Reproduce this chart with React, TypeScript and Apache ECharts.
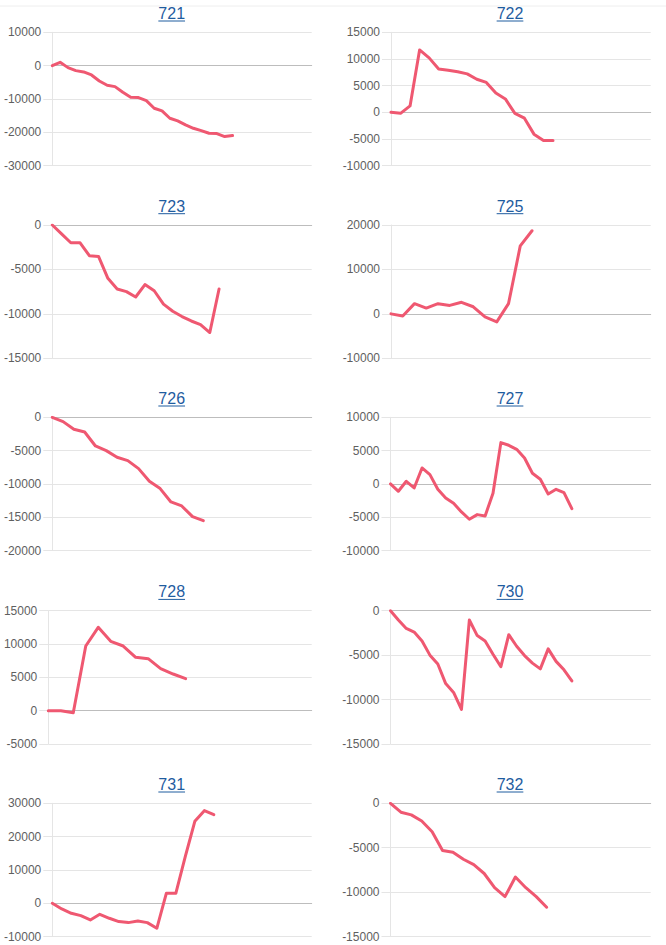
import React, { useEffect, useRef } from "react";
import * as echarts from "echarts";

// Panel titles (in reading order)
const titles = ["721", "722", "723", "725", "726", "727", "728", "730", "731", "732"];

// Series values
const s721 = [0, 1000, -600, -1500, -1900, -2800, -4600, -5900, -6300, -8000, -9500, -9600, -10500, -12800, -13600, -15800, -16600, -17800, -18800, -19500, -20300, -20400, -21300, -21000];
const s722 = [0, -200, 1200, 11700, 10200, 8100, 7900, 7600, 7200, 6200, 5600, 3600, 2500, -200, -1100, -4100, -5300, -5300];
const s723 = [0, -1000, -2000, -2000, -3450, -3550, -6000, -7200, -7500, -8100, -6700, -7400, -8900, -9700, -10300, -10800, -11200, -12100, -7200];
const s725 = [0, -500, 2300, 1300, 2300, 1900, 2600, 1600, -700, -1800, 2300, 15300, 18700];
const s726 = [0, -650, -1800, -2200, -4300, -5000, -6000, -6500, -7700, -9600, -10700, -12700, -13300, -14900, -15500];
const s727 = [0, -1100, 400, -600, 2400, 1400, -800, -2100, -2900, -4200, -5300, -4600, -4800, -1400, 6200, 5800, 5200, 3900, 1600, 700, -1500, -800, -1300, -3700];
const s728 = [0, 0, -300, 9700, 12500, 10400, 9700, 8000, 7800, 6300, 5500, 4800];
const s730 = [0, -1050, -2000, -2400, -3400, -5000, -6000, -8200, -9200, -11100, -1050, -2800, -3400, -4900, -6300, -2700, -4000, -5050, -5900, -6550, -4300, -5700, -6650, -7900];
const s731 = [0, -1700, -3000, -3700, -5000, -3300, -4500, -5500, -5800, -5300, -5800, -7500, 3000, 3000, 14100, 24600, 27800, 26600];
const s732 = [0, -1000, -1300, -2000, -3200, -5300, -5500, -6300, -6900, -7900, -9500, -10500, -8300, -9500, -10500, -11700];

const seriesValues = [s721, s722, s723, s725, s726, s727, s728, s730, s731, s732];

// Y axis ranges (tick labels)
const yMins = [-30000, -10000, -15000, -10000, -20000, -10000, -5000, -15000, -10000, -15000];
const yMaxs = [10000, 15000, 0, 20000, 0, 10000, 15000, 0, 30000, 0];
const ySteps = [10000, 5000, 5000, 10000, 5000, 5000, 5000, 5000, 10000, 5000];

// Layout (positions / sizes)
const plotLefts = [52.3, 391, 52.3, 391, 52.3, 390.5, 48.3, 390.5, 52.3, 390.5];
const plotRights = [311.7, 650.7];
const rowTops = [32.3, 225, 417.3, 610.7, 803.3];
const plotHeight = 133.3;
const xSpans = [33.1, 27.25, 28.0, 22.1, 24.05, 33.0, 21.1, 33.0, 27.3, 25.0];
const titleCenters = [171.7, 510];

const LINE_COLOR = "#ef5871";
const GRID_COLOR = "#e5e5e5";
const ZERO_COLOR = "#bdbdbd";
const LABEL_COLOR = "#5f5f5f";
const LINK_COLOR = "#1f5c9f";
const FONT = "'Liberation Sans', Arial, sans-serif";

export default function App() {
  const ref = useRef<HTMLDivElement>(null);

  useEffect(() => {
    if (!ref.current) return;
    const chart = echarts.init(ref.current, undefined, { renderer: "svg" });

    const grids: any[] = [];
    const xAxes: any[] = [];
    const yAxes: any[] = [];
    const series: any[] = [];
    const graphics: any[] = [];

    graphics.push({
      type: "line",
      shape: { x1: 0, y1: 6, x2: 666, y2: 6 },
      style: { stroke: "#eeeeee", lineWidth: 1 },
      silent: true,
    });

    seriesValues.forEach((vals, i) => {
      const col = i % 2;
      const row = Math.floor(i / 2);
      const left = plotLefts[i];
      const top = rowTops[row];
      grids.push({
        left,
        top,
        width: plotRights[col] - left,
        height: plotHeight,
        containLabel: false,
      });
      xAxes.push({
        type: "value",
        gridIndex: i,
        min: 0,
        max: xSpans[i],
        axisLine: { show: true, onZero: true, lineStyle: { color: ZERO_COLOR, width: 1 } },
        axisTick: { show: false },
        axisLabel: { show: false },
        splitLine: { show: false },
      });
      yAxes.push({
        type: "value",
        gridIndex: i,
        min: yMins[i],
        max: yMaxs[i],
        interval: ySteps[i],
        axisLine: { show: true, lineStyle: { color: GRID_COLOR, width: 1 } },
        axisTick: { show: true, length: 9, lineStyle: { color: GRID_COLOR, width: 1 } },
        axisLabel: {
          color: LABEL_COLOR,
          fontSize: 12,
          fontFamily: FONT,
          margin: 11,
          formatter: (v: number) => String(v),
        },
        splitLine: { show: true, lineStyle: { color: GRID_COLOR, width: 1 } },
      });
      series.push({
        type: "line",
        xAxisIndex: i,
        yAxisIndex: i,
        data: vals.map((v, k) => [k, v]),
        showSymbol: false,
        symbol: "none",
        smooth: false,
        lineStyle: { color: LINE_COLOR, width: 3, cap: "round", join: "round" },
        itemStyle: { color: LINE_COLOR },
        silent: true,
      });

      const cx = titleCenters[col];
      const ty = top - 18.8;
      const tw = titles[i].length * 0.556 * 16;
      graphics.push({
        type: "text",
        x: cx,
        y: ty,
        style: {
          text: titles[i],
          fill: LINK_COLOR,
          font: `16px ${FONT}`,
          align: "center",
          verticalAlign: "middle",
        },
      });
      graphics.push({
        type: "line",
        shape: { x1: cx - tw / 2, y1: ty + 7.5, x2: cx + tw / 2, y2: ty + 7.5 },
        style: { stroke: LINK_COLOR, lineWidth: 1 },
        silent: true,
      });
    });

    chart.setOption({
      animation: false,
      backgroundColor: "#ffffff",
      grid: grids,
      xAxis: xAxes,
      yAxis: yAxes,
      series,
      graphic: graphics,
    });

    return () => chart.dispose();
  }, []);

  return (
    <div
      ref={ref}
      style={{ position: "absolute", left: 0, top: 0, width: 666, height: 945, background: "#fff" }}
    />
  );
}
